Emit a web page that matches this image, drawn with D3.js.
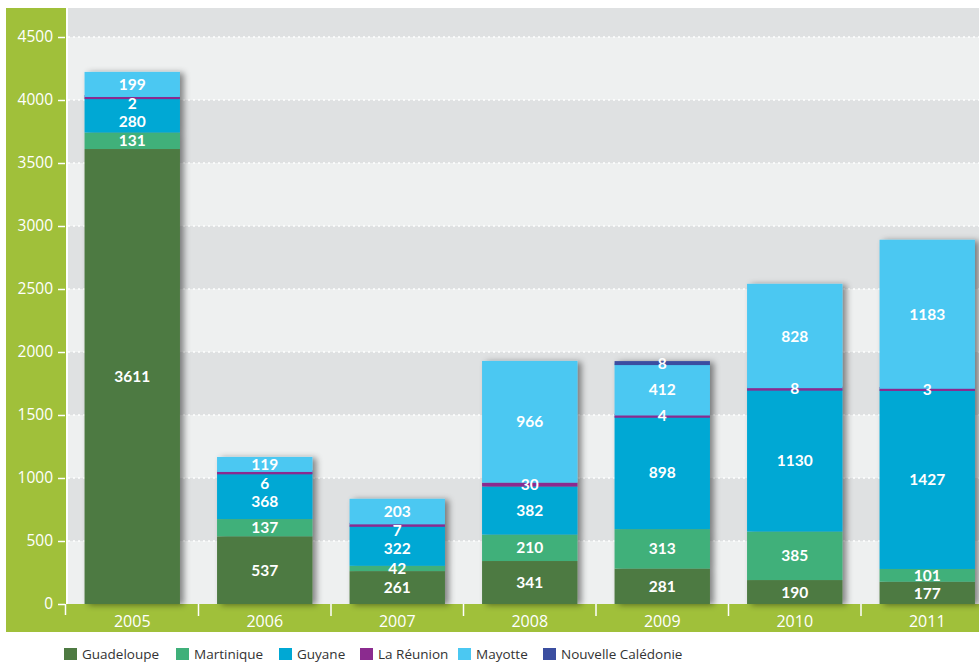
<!DOCTYPE html>
<html><head><meta charset="utf-8">
<script src="https://cdn.jsdelivr.net/npm/d3@7"></script>
<style>
body{margin:0;background:#fff;}
svg{display:block;font-family:"Open Sans",Lato,sans-serif;}
</style></head>
<body><svg id="c" width="979" height="664"></svg>
<script>
const years = ["2005","2006","2007","2008","2009","2010","2011"];
const guadeloupe = [3611,537,261,341,281,190,177];
const martinique = [131,137,42,210,313,385,101];
const guyane = [280,368,322,382,898,1130,1427];
const reunion = [2,6,7,30,4,8,3];
const mayotte = [199,119,203,966,412,828,1183];
const caledonie = [0,0,0,0,8,0,0];
const seriesNames = ["Guadeloupe","Martinique","Guyane","La Réunion","Mayotte","Nouvelle Calédonie"];
const seriesValues = [guadeloupe,martinique,guyane,reunion,mayotte,caledonie];
const colors = ["#4e7a42","#3fb07a","#00a8d4","#8b2b8f","#4bc8f2","#3b4ea0"];
const yTicks = [0,500,1000,1500,2000,2500,3000,3500,4000,4500];

const svg = d3.select("#c");
const plotL = 68, plotR = 979, plotT = 8, plotB = 604;
const y = d3.scaleLinear().domain([0,4500]).range([604,37]);
const x = d3.scaleBand().domain(years).range([66,993.5]).paddingInner(0.28).paddingOuter(0.14);

const defs = svg.append("defs");
const f = defs.append("filter").attr("id","sh").attr("x","-20%").attr("y","-20%").attr("width","150%").attr("height","150%");
f.append("feDropShadow").attr("dx",4).attr("dy",1).attr("stdDeviation",3).attr("flood-color","#000").attr("flood-opacity",0.45);

// green strips
svg.append("rect").attr("x",6).attr("y",8).attr("width",60).attr("height",624).attr("fill","#a0c03a");
svg.append("rect").attr("x",6).attr("y",604).attr("width",973).attr("height",28).attr("fill","#a0c03a");

// plot background bands
svg.append("rect").attr("x",plotL).attr("y",plotT).attr("width",plotR-plotL).attr("height",y(4500)-plotT).attr("fill","#dfe1e2");
for(let i=0;i<9;i++){
  const lo=i*500, hi=lo+500;
  svg.append("rect").attr("x",plotL).attr("y",y(hi)).attr("width",plotR-plotL).attr("height",y(lo)-y(hi))
    .attr("fill", i%2===0 ? "#eef0f0" : "#dfe1e2");
}
// gridlines
svg.append("g").selectAll("line").data(yTicks.filter(d=>d>0)).join("line")
  .attr("x1",plotL).attr("x2",plotR).attr("y1",d=>y(d)).attr("y2",d=>y(d))
  .attr("stroke","#fff").attr("stroke-width",1.5).attr("stroke-dasharray","2,3");

// y axis
const yAxis = d3.axisLeft(y).tickValues(yTicks).tickFormat(d3.format("d")).tickSize(7).tickPadding(5);
const ga = svg.append("g").attr("transform","translate(65,0)").call(yAxis);
ga.select(".domain").remove();
ga.selectAll(".tick line").attr("stroke","#fff").attr("stroke-width",1.5);
ga.selectAll(".tick text").attr("fill","#fff").attr("font-size",15.5).attr("font-family","'Open Sans',sans-serif");
svg.append("line").attr("x1",65.5).attr("x2",65.5).attr("y1",604).attr("y2",615).attr("stroke","#fff").attr("stroke-width",1.5);

// x separators and labels
const step = x.step();
const seps = years.map((d,i)=>x.range()[0]+ (i+1)*step);
svg.append("g").selectAll("line").data(seps).join("line")
  .attr("x1",d=>d).attr("x2",d=>d).attr("y1",604).attr("y2",616).attr("stroke","#fff").attr("stroke-width",1.5);
svg.append("g").selectAll("text").data(years).join("text")
  .attr("x",d=>x(d)+x.bandwidth()/2).attr("y",627).attr("text-anchor","middle")
  .attr("fill","#fff").attr("font-size",16).text(d=>d);

// stacks
const rows = years.map((yr,i)=>{const o={year:yr}; seriesNames.forEach((s,j)=>o[s]=seriesValues[j][i]); return o;});
const stack = d3.stack().keys(seriesNames)(rows);
const bars = svg.append("g");
years.forEach((yr,i)=>{
  const g = bars.append("g").attr("filter","url(#sh)");
  stack.forEach((layer,j)=>{
    const d = layer[i];
    const v = d[1]-d[0];
    if(v<=0) return;
    let y0=y(d[1]), h=y(d[0])-y(d[1]);
    if(h<4){ const c=(y(d[0])+y(d[1]))/2; h=4; y0=c-2; }
    g.append("rect").attr("x",x(yr)).attr("y",y0).attr("width",x.bandwidth()).attr("height",h).attr("fill",colors[j]);
  });
});
// labels: push crowded labels downward so they do not collide
const labels = svg.append("g");
const gap = 18.5;
years.forEach((yr,i)=>{
  const items=[];
  stack.forEach((layer,j)=>{
    const d = layer[i];
    const v = d[1]-d[0];
    if(v<=0) return;
    items.push({v, yy:(y(d[0])+y(d[1]))/2});
  });
  items.sort((a,b)=>a.yy-b.yy);
  for(let k=1;k<items.length;k++){
    items[k].yy = Math.max(items[k].yy, items[k-1].yy+gap);
  }
  items.forEach(o=>{
    labels.append("text").attr("x",x(yr)+x.bandwidth()/2).attr("y",o.yy)
      .attr("dy","0.36em").attr("text-anchor","middle").attr("fill","#fff")
      .attr("font-family","Lato,sans-serif")
      .attr("font-size",15.5).attr("font-weight","bold").text(o.v);
  });
});

// legend
const legX = [64,176,279,360,458,543];
const lg = svg.append("g");
seriesNames.forEach((s,j)=>{
  lg.append("rect").attr("x",legX[j]).attr("y",648).attr("width",13).attr("height",12).attr("fill",colors[j]);
  lg.append("text").attr("x",legX[j]+18).attr("y",658.5).attr("font-size",13.5).attr("fill","#333").text(s);
});
</script></body></html>
